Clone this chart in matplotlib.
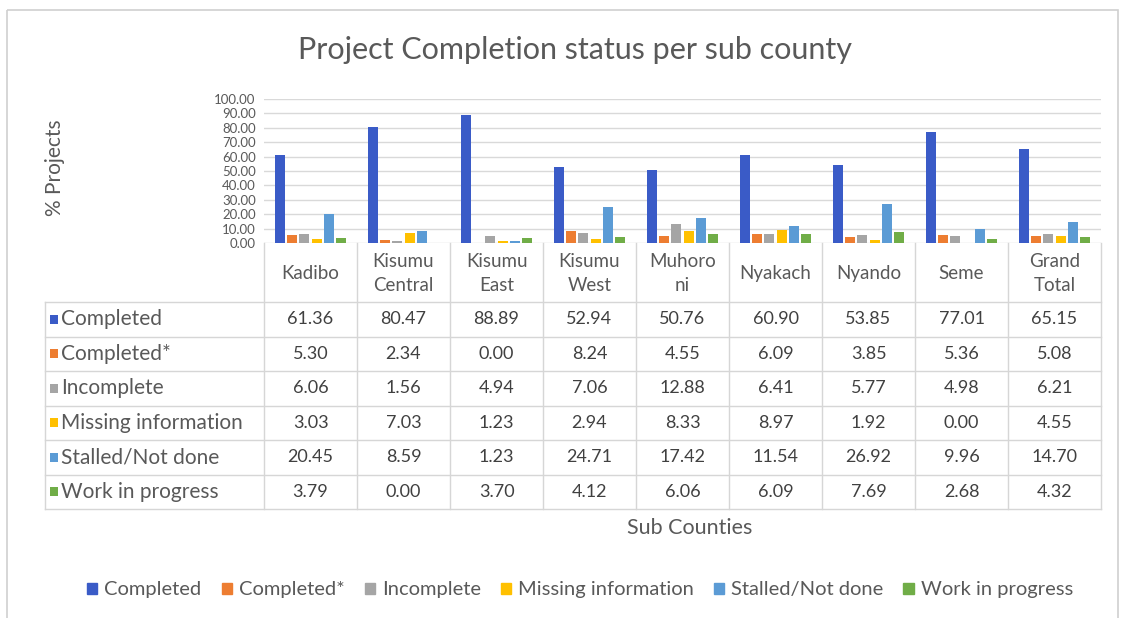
import numpy as np
import matplotlib
matplotlib.use('Agg')
import matplotlib.pyplot as plt
from matplotlib.patches import Rectangle, Patch
from matplotlib.lines import Line2D

plt.rcParams['font.family'] = ['Lato', 'DejaVu Sans']

counties = ['Kadibo', 'Kisumu\nCentral', 'Kisumu\nEast', 'Kisumu\nWest', 'Muhoro\nni',
            'Nyakach', 'Nyando', 'Seme', 'Grand\nTotal']
statuses = ['Completed', 'Completed*', 'Incomplete', 'Missing information',
            'Stalled/Not done', 'Work in progress']
completed = [61.36, 80.47, 88.89, 52.94, 50.76, 60.90, 53.85, 77.01, 65.15]
completed_star = [5.30, 2.34, 0.00, 8.24, 4.55, 6.09, 3.85, 5.36, 5.08]
incomplete = [6.06, 1.56, 4.94, 7.06, 12.88, 6.41, 5.77, 4.98, 6.21]
missing_info = [3.03, 7.03, 1.23, 2.94, 8.33, 8.97, 1.92, 0.00, 4.55]
stalled = [20.45, 8.59, 1.23, 24.71, 17.42, 11.54, 26.92, 9.96, 14.70]
in_progress = [3.79, 0.00, 3.70, 4.12, 6.06, 6.09, 7.69, 2.68, 4.32]
series = [completed, completed_star, incomplete, missing_info, stalled, in_progress]
colors = ['#3A5BC7', '#ED7D31', '#A5A5A5', '#FFC000', '#5B9BD5', '#70AD47']
yticks = np.arange(0, 101, 10)

W, H = 1133, 618
txt = '#595959'
grid = '#D9D9D9'

fig = plt.figure(figsize=(W / 100, H / 100), dpi=100)
fig.patch.set_facecolor('white')

# overlay in pixel coords for the frame + data table
ov = fig.add_axes([0, 0, 1, 1])
ov.set_xlim(0, W)
ov.set_ylim(H, 0)
ov.axis('off')
ov.add_patch(Rectangle((7, 10), 1111, 640, fill=False, ec='#D0D0D0', lw=1.2))

# bar area
x0, x1, ytop, ybot = 264, 1101, 99, 243
ax = fig.add_axes([x0 / W, 1 - ybot / H, (x1 - x0) / W, (ybot - ytop) / H])
n = len(counties)
x = np.arange(n) + 0.5
group = 0.78
slot = group / len(series)
for k, (vals, c) in enumerate(zip(series, colors)):
    ax.bar(x - group / 2 + slot * (k + 0.5), vals, width=slot * 0.82, color=c, zorder=3)
ax.set_xlim(0, n)
ax.set_ylim(0, 100)
ax.set_yticks(yticks)
# tick spacing is only ~14px, keep labels small enough not to collide
ax.set_yticklabels([f'{v:.2f}' for v in yticks], fontsize=9.5, color=txt)
ax.set_xticks([])
ax.tick_params(axis='y', length=0, pad=6)
ax.grid(axis='y', color=grid, lw=1, zorder=0)
for s in ax.spines.values():
    s.set_visible(False)
ax.set_facecolor('none')

fig.text(575 / W, 1 - 50 / H, 'Project Completion status per sub county',
         ha='center', va='center', fontsize=22, color=txt)
fig.text(55 / W, 1 - 168 / H, '% Projects', rotation=90, ha='center', va='center',
         fontsize=15, color=txt)

# table
colw = (x1 - x0) / n
row_top, row_h = 302, 34.5
nrows = len(series)
row_bot = row_top + row_h * nrows
tl = '#D6D6D6'
for j in range(n + 1):
    xx = x0 + j * colw
    ov.add_line(Line2D([xx, xx], [ybot, row_bot], color=tl, lw=1))
ov.add_line(Line2D([45, 45], [row_top, row_bot], color=tl, lw=1))
for r in range(nrows + 1):
    yy = row_top + r * row_h
    ov.add_line(Line2D([45, x1], [yy, yy], color=tl, lw=1))
for j, name in enumerate(counties):
    ov.text(x0 + (j + 0.5) * colw, (ybot + row_top) / 2 + 1, name, ha='center', va='center',
            fontsize=13.5, color=txt, linespacing=1.55)
for r, (lab, vals, c) in enumerate(zip(statuses, series, colors)):
    yc = row_top + (r + 0.5) * row_h
    ov.add_patch(Rectangle((50, yc - 4.5), 8, 9, color=c, lw=0))
    ov.text(61, yc, lab, ha='left', va='center', fontsize=15, color=txt)
    for j, v in enumerate(vals):
        ov.text(x0 + (j + 0.5) * colw, yc, f'{v:.2f}', ha='center', va='center',
                fontsize=13, color='#404040')

fig.text(690 / W, 1 - 528 / H, 'Sub Counties', ha='center', va='center',
         fontsize=15.5, color=txt)

handles = [Patch(color=c, label=s) for s, c in zip(statuses, colors)]
leg = fig.legend(handles=handles, loc='center', bbox_to_anchor=(580 / W, 1 - 590 / H),
                 ncol=6, frameon=False, fontsize=14.5, handlelength=0.5, handleheight=0.5,
                 handletextpad=0.35, columnspacing=1.0)
for t in leg.get_texts():
    t.set_color(txt)

fig.savefig('out.png', dpi=100, facecolor='white')
